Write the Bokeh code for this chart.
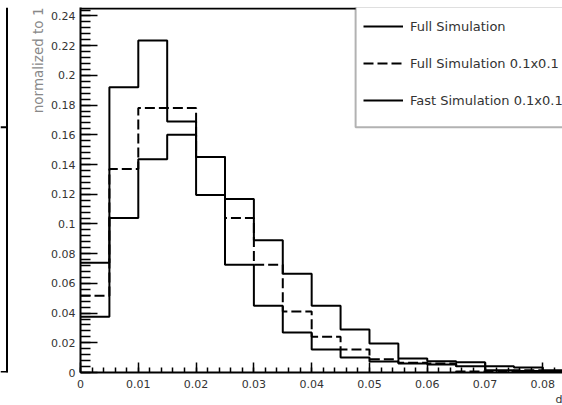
from bokeh.plotting import figure
from bokeh.layouts import row
from bokeh.models import (SingleIntervalTicker, CustomJSTickFormatter, Span, Title,
                          Legend, LegendItem, Range1d, BoxAnnotation)
from bokeh.embed import file_html
from bokeh.resources import INLINE

# bin edges (width 0.005)
bin_edges = [0.000, 0.005, 0.010, 0.015, 0.020, 0.025, 0.030, 0.035, 0.040,
             0.045, 0.050, 0.055, 0.060, 0.065, 0.070, 0.075, 0.080, 0.085]

full_sim = [0.0738, 0.192, 0.2235, 0.169, 0.145, 0.0725, 0.045, 0.027, 0.0155,
            0.0101, 0.0074, 0.0060, 0.0054, 0.0042, 0.0015, 0.0010, 0.0008]
full_sim_01 = [0.0517, 0.137, 0.178, 0.178, 0.145, 0.104, 0.0725, 0.041, 0.024,
               0.0155, 0.0090, 0.0065, 0.0060, 0.0007, 0.0007, 0.0015, 0.0010]
fast_sim_01 = [0.0376, 0.104, 0.1436, 0.160, 0.1195, 0.1168, 0.089, 0.0664, 0.045,
               0.0289, 0.0195, 0.0094, 0.0075, 0.0069, 0.0042, 0.0034, 0.0015]

legend_labels = ["Full Simulation", "Full Simulation 0.1x0.1", "Fast Simulation 0.1x0.1"]
x_title = "d"
y_title = "normalized to 1"

x_max = 0.0834
y_top = 0.245      # frame top line
y_view = 0.2457    # visible range end
legend_bottom = 0.1651

# ---- sliver of the neighbouring panel on the left (frames are aligned in the row) ----
left = figure(width=8, height=405, output_backend="svg", toolbar_location=None,
              x_range=Range1d(0, 8), y_range=Range1d(0, y_view),
              min_border_left=0, min_border_right=0, min_border_top=7, min_border_bottom=32)
left.xaxis.visible = False
left.yaxis.visible = False
left.grid.visible = False
left.outline_line_color = None
left.add_layout(Span(location=6.5, dimension="height", line_color="black", line_width=2))
left.add_layout(Span(location=0, dimension="width", line_color="black", line_width=3))
left.add_layout(Span(location=legend_bottom, dimension="width", line_color="black", line_width=2))

# ---- main panel ----
p = figure(width=554, height=405, output_backend="svg", toolbar_location=None,
           x_range=Range1d(0, x_max), y_range=Range1d(0, y_view),
           min_border_left=72, min_border_right=0, min_border_top=7, min_border_bottom=32)
p.outline_line_color = None
p.grid.visible = False
p.background_fill_color = "white"
p.border_fill_color = "white"

fmt = CustomJSTickFormatter(code="return String(Number(tick.toFixed(4)));")
for ax in (p.xaxis[0], p.yaxis[0]):
    ax.axis_line_width = 2
    ax.axis_line_color = "black"
    ax.major_tick_out = 0
    ax.minor_tick_out = 0
    ax.major_tick_line_width = 1.5
    ax.minor_tick_line_width = 1.5
    ax.major_tick_line_color = "black"
    ax.minor_tick_line_color = "black"
    ax.major_label_text_font = "DejaVu Sans"
    ax.major_label_text_font_size = "11px"
    ax.major_label_text_color = "#333333"
    ax.formatter = fmt

p.xaxis.ticker = SingleIntervalTicker(interval=0.01, num_minor_ticks=5)
p.xaxis.major_tick_in = 10
p.xaxis.minor_tick_in = 5
p.xaxis.major_label_standoff = 7
p.yaxis.ticker = SingleIntervalTicker(interval=0.02, num_minor_ticks=5)
p.yaxis.major_tick_in = 17
p.yaxis.minor_tick_in = 10
p.yaxis.major_label_standoff = 5

p.add_layout(Span(location=y_top, dimension="width", line_color="black", line_width=2))

def stepped(vals):
    return list(vals) + [vals[-1]]

r1 = p.step(bin_edges, stepped(full_sim), mode="after", line_color="black", line_width=2)
r2 = p.step(bin_edges, stepped(full_sim_01), mode="after", line_color="black", line_width=2,
            line_dash="10 4")
r3 = p.step(bin_edges, stepped(fast_sim_01), mode="after", line_color="black", line_width=2)

# legend frame
p.add_layout(BoxAnnotation(left=0.0476, right=0.095, bottom=legend_bottom, top=0.27,
                           fill_color="white", fill_alpha=1,
                           line_color="black", line_width=2))
legend = Legend(items=[LegendItem(label=legend_labels[0], renderers=[r1]),
                       LegendItem(label=legend_labels[1], renderers=[r2]),
                       LegendItem(label=legend_labels[2], renderers=[r3])],
                location=(283, 261), glyph_width=40, glyph_height=22, label_height=22,
                spacing=15, padding=0, margin=0, label_standoff=7,
                label_text_font="DejaVu Sans", label_text_font_size="13px",
                label_text_color="#333333",
                border_line_color=None, background_fill_alpha=0)
p.add_layout(legend)

p.add_layout(Title(text=y_title, align="right", standoff=6, text_font="DejaVu Sans",
                   text_font_size="13.5px", text_font_style="normal",
                   text_color="#888888"), "left")
p.add_layout(Title(text=x_title, align="right", standoff=0, text_font="DejaVu Sans",
                   text_font_size="11px", text_font_style="normal",
                   text_color="#333333"), "below")

layout = row(left, p, spacing=0)
open("out.html", "w").write(file_html(layout, INLINE))
